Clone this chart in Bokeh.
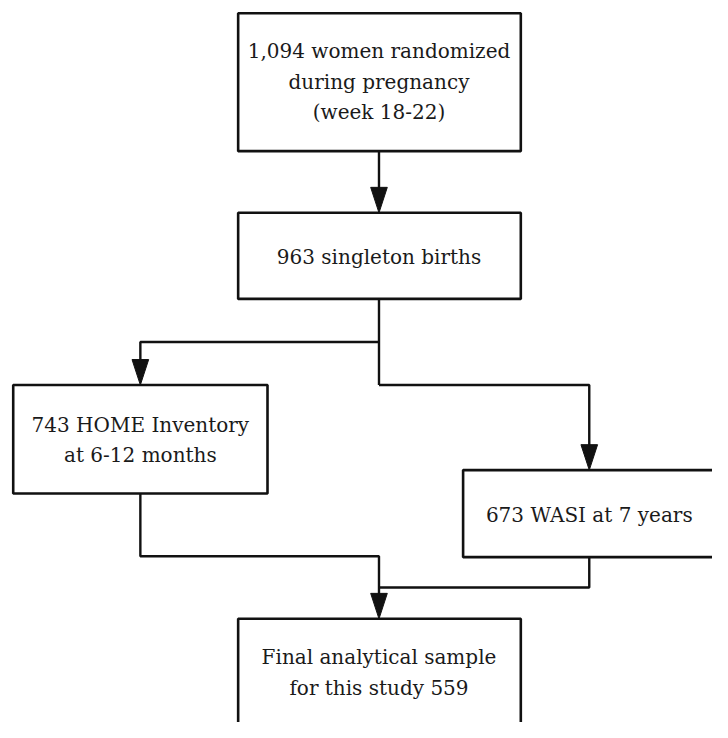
from bokeh.plotting import figure
from bokeh.models import Range1d
from bokeh.core.properties import value
from bokeh.embed import file_html
from bokeh.resources import INLINE

# ---- data (content of the flowchart) ----
counts = [1094, 963, 743, 673, 559]
labels = [
    "1,094 women randomized\nduring pregnancy\n(week 18-22)",
    "963 singleton births",
    "743 HOME Inventory\nat 6-12 months",
    "673 WASI at 7 years",
    "Final analytical sample\nfor this study 559",
]

# ---- layout (reference pixel coordinates, y downward) ----
box_x0 = [243, 243, 13, 473, 243]
box_x1 = [532, 532, 273, 731, 532]
box_y0 = [13, 217, 393, 480, 632]
box_y1 = [154, 305, 504, 569, 775]
text_cx = [387, 387, 143, 602, 387]
text_cy = [83, 262, 449, 526, 687]
line_gap = 31

W, H = 712, 722
p = figure(width=W, height=H, output_backend="svg", toolbar_location=None,
           x_range=Range1d(0, 728), y_range=Range1d(738, 0),
           min_border=0)
p.axis.visible = False
p.grid.visible = False
p.outline_line_color = None
p.background_fill_color = "white"
p.border_fill_color = "white"

# boxes
p.quad(left=box_x0, right=box_x1, top=box_y0, bottom=box_y1,
       fill_color="white", line_color="#111111", line_width=2.6)

# connectors
xs = [
    [387, 387],
    [387, 387],
    [387, 143, 143],
    [387, 602, 602],
    [143, 143, 387, 387],
    [602, 602, 387],
]
ys = [
    [154, 205],
    [305, 393],
    [349, 349, 380],
    [393, 393, 468],
    [504, 568, 568, 620],
    [569, 600, 600],
]
p.multi_line(xs=xs, ys=ys, line_color="#111111", line_width=2.4)

# arrow heads (tip, halfwidth, length)
tips = [(387, 217), (143, 393), (602, 480), (387, 632)]
hw, hl = 8.5, 26
ax = [[tx - hw, tx + hw, tx] for tx, ty in tips]
ay = [[ty - hl, ty - hl, ty] for tx, ty in tips]
p.patches(xs=ax, ys=ay, fill_color="#111111", line_color="#111111", line_width=1)

# texts
tx, ty, tt = [], [], []
for lab, cx, cy in zip(labels, text_cx, text_cy):
    lines = lab.split("\n")
    n = len(lines)
    for i, ln in enumerate(lines):
        tx.append(cx)
        ty.append(cy + (i - (n - 1) / 2) * line_gap)
        tt.append(ln)
p.text(x=tx, y=ty, text=tt, text_align="center", text_baseline="middle",
       text_font=value("DejaVu Serif"), text_font_size="20px", text_color="#1a1a1a")

open("out.html", "w").write(file_html(p, INLINE))
